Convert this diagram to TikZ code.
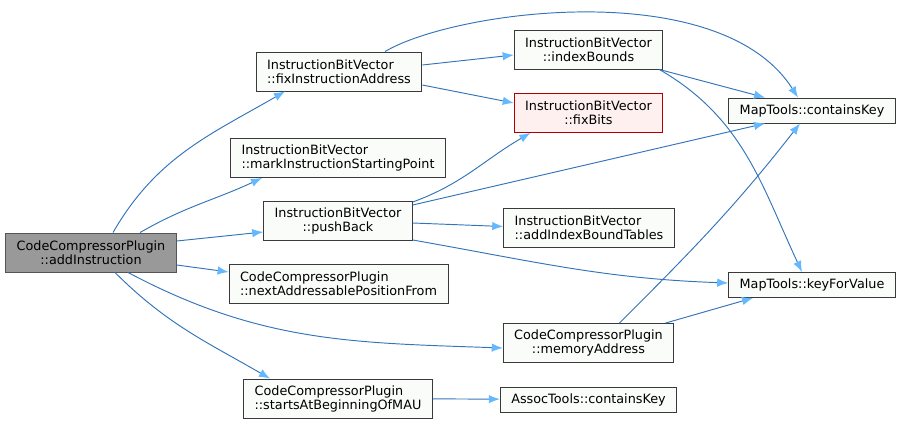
\documentclass[tikz,border=0pt]{standalone}
\usepackage{fontspec}
\setmainfont{DejaVu Sans}
\usetikzlibrary{arrows.meta}
\definecolor{rootfill}{HTML}{999999}
\definecolor{rootgrey}{HTML}{555555}
\definecolor{boxfill}{HTML}{FAFCFA}
\definecolor{boxgrey}{HTML}{3A3A3A}
\definecolor{missfill}{HTML}{FFF0F0}
\definecolor{missred}{HTML}{B00000}
\definecolor{edgeblue}{HTML}{3474BA}
\definecolor{tipblue}{HTML}{63B8FF}

\begin{document}
\begin{tikzpicture}
    [
        x=1pt, y=-1pt,
        base_node/.style={rectangle, draw=boxgrey, fill=boxfill, line width=0.9pt, inner xsep=11pt, minimum height=39pt, align=center, font=\fontsize{12.8}{14}\selectfont},
        root_node/.style={base_node, draw=rootgrey, fill=rootfill},
        miss_node/.style={base_node, draw=missred, fill=missfill},
        single_node/.style={base_node, minimum height=25pt},
        call_edge/.style={-{Latex[length=11pt, width=8.5pt, color=tipblue]}, line width=0.95pt, color=edgeblue},
    ]
        \useasboundingbox (0,0) rectangle (903,426);
        % caller
        \node[root_node] (root) at (91,252.5) {CodeCompressorPlugin\\::addInstruction};
        % first level
        \node[base_node, align=left] (fia) at (339,71.5) {InstructionBitVector\\::fixInstructionAddress};
        \node[base_node, align=left] (mark) at (338,158) {InstructionBitVector\\::markInstructionStartingPoint};
        \node[base_node] (pb) at (338,221) {InstructionBitVector\\::pushBack};
        \node[base_node, align=left] (next) at (338.5,283.5) {CodeCompressorPlugin\\::nextAddressablePositionFrom};
        \node[base_node, align=left] (starts) at (338,398.5) {CodeCompressorPlugin\\::startsAtBeginningOfMAU};
        % second level
        \node[base_node] (ib) at (588.5,49.5) {InstructionBitVector\\::indexBounds};
        \node[miss_node] (fb) at (588.5,113) {InstructionBitVector\\::fixBits};
        \node[base_node, align=left] (aibt) at (589,227.5) {InstructionBitVector\\::addIndexBoundTables};
        \node[base_node] (mem) at (588.5,343) {CodeCompressorPlugin\\::memoryAddress};
        \node[single_node] (assoc) at (588.5,399.5) {AssocTools::containsKey};
        % third level
        \node[single_node] (mck) at (812,110.5) {MapTools::containsKey};
        \node[single_node] (mkv) at (812,285) {MapTools::keyForValue};
        % calls
        \draw[call_edge] ([xshift=22pt]root.north) to[out=60, in=210] ([xshift=-54pt]fia.south);
        \draw[call_edge] ([xshift=49pt]root.north) to[out=30, in=205] ([xshift=-76pt]mark.south);
        \draw[call_edge] ([yshift=11.5pt]root.east) -- ([yshift=-11pt]pb.west);
        \draw[call_edge] ([yshift=-12.5pt]root.east) -- ([yshift=11.5pt]next.west);
        \draw[call_edge] ([xshift=37pt]root.south) to[out=-28, in=178] ([yshift=-5pt]mem.west);
        \draw[call_edge] ([xshift=24pt]root.south) to[out=-45, in=150] ([xshift=-68pt]starts.north);
        \draw[call_edge] ([xshift=46pt]fia.north) .. controls (455,10) and (720,-25) .. ([xshift=-14pt]mck.north);
        \draw[call_edge] ([yshift=6.5pt]fia.east) -- ([yshift=-5.5pt]ib.west);
        \draw[call_edge] ([yshift=-13.5pt]fia.east) -- ([yshift=10pt]fb.west);
        \draw[call_edge] ([xshift=-4pt]ib.south east) -- ([xshift=-47pt]mck.north);
        \draw[call_edge] ([xshift=-4pt]ib.south east) to[out=-30, in=115] ([xshift=-10pt]mkv.north);
        \draw[call_edge] ([yshift=19pt]pb.east) to[out=20, in=210] ([xshift=-58pt]fb.south);
        \draw[call_edge] ([yshift=16pt]pb.east) -- ([xshift=-47pt]mck.south);
        \draw[call_edge] ([yshift=-2pt]pb.east) -- ([yshift=1pt]aibt.west);
        \draw[call_edge] ([yshift=-19pt]pb.east) to[out=-10, in=178] ([yshift=2pt]mkv.west);
        \draw[call_edge] ([xshift=31pt]mem.north) to[out=45, in=-128] ([xshift=-12pt]mck.south);
        \draw[call_edge] ([xshift=77pt]mem.north) -- ([xshift=-59pt]mkv.south);
        \draw[call_edge] (starts) -- (assoc);
    \end{tikzpicture}
\end{document}
